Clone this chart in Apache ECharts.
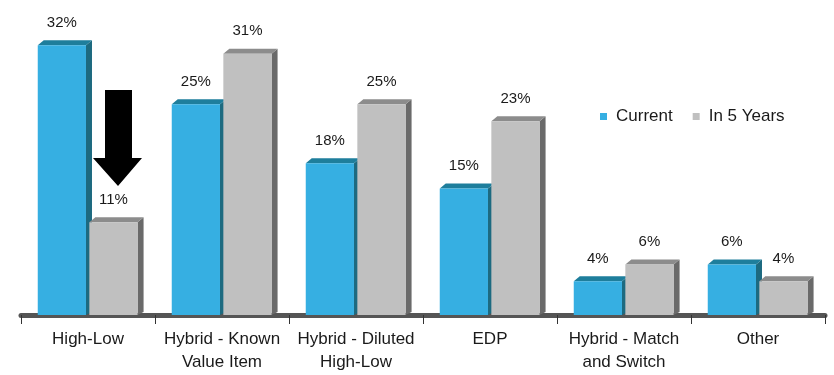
<!DOCTYPE html>
<html>
<head>
<meta charset="utf-8">
<script src="https://cdn.jsdelivr.net/npm/echarts@6/dist/echarts.min.js"></script>
<style>
  html, body { margin: 0; padding: 0; background: #fff; }
  #main { width: 834px; height: 375px; }
</style>
</head>
<body>
<div id="main"></div>
<script>
// data
var categories = ['High-Low', 'Hybrid - Known\nValue Item', 'Hybrid - Diluted\nHigh-Low', 'EDP', 'Hybrid - Match\nand Switch', 'Other'];
var current = [32, 25, 18, 15, 4, 6];
var in5Years = [11, 31, 25, 23, 6, 4];

var myChart = echarts.init(document.getElementById('main'));

// draws a bar with a little fake 3d top + side
function bar3d(front, top, side, offset) {
  return function (params, api) {
    var i = api.value(0), v = api.value(1);
    var base = api.coord([i, 0]);
    var tip = api.coord([i, v]);
    var band = api.size([1, 0])[0];
    var w = band * 0.36;
    var cx = base[0] + band * offset;
    var x0 = cx - w / 2, x1 = cx + w / 2;
    var d = 6, h = 5;
    return {
      type: 'group',
      children: [
        {
          type: 'polygon',
          shape: { points: [[x1, tip[1]], [x1 + d, tip[1] - h], [x1 + d, base[1] - 3], [x1, base[1]]] },
          style: { fill: side }
        },
        {
          type: 'polygon',
          shape: { points: [[x0, tip[1]], [x0 + d, tip[1] - h], [x1 + d, tip[1] - h], [x1, tip[1]]] },
          style: { fill: top }
        },
        {
          type: 'rect',
          shape: { x: x0, y: tip[1], width: w, height: base[1] - tip[1] },
          style: { fill: front },
          textContent: {
            style: { text: v + '%', fill: '#1a1a1a', font: '15px "Liberation Sans", Arial, sans-serif' }
          },
          textConfig: { position: 'top', distance: 15 }
        }
      ]
    };
  };
}

var option = {
  animation: false,
  legend: {
    left: 595,
    top: 103,
    itemWidth: 7,
    itemHeight: 7,
    itemGap: 20,
    icon: 'rect',
    textStyle: { fontSize: 17, color: '#1a1a1a', fontFamily: 'Liberation Sans', padding: [0, 0, 0, 4] },
    data: ['Current', 'In 5 Years']
  },
  grid: { left: 21, right: 9, top: 20, bottom: 60 },
  xAxis: {
    type: 'category',
    data: categories,
    axisLine: { lineStyle: { color: '#555', width: 5 } },
    axisTick: { show: true, length: 9, lineStyle: { color: '#333', width: 1 } },
    axisLabel: {
      interval: 0,
      margin: 13,
      fontSize: 17,
      lineHeight: 23,
      color: '#1a1a1a',
      fontFamily: 'Liberation Sans'
    }
  },
  yAxis: { type: 'value', min: 0, max: 35, show: false },
  series: [
    {
      name: 'Current',
      type: 'custom',
      itemStyle: { color: '#36afe2' },
      renderItem: bar3d('#36afe2', '#1e7e9c', '#1d6a80', -0.195),
      data: current.map(function (v, i) { return [i, v]; })
    },
    {
      name: 'In 5 Years',
      type: 'custom',
      itemStyle: { color: '#c0c0c0' },
      renderItem: bar3d('#c0c0c0', '#8c8c8c', '#6a6a6a', 0.19),
      data: in5Years.map(function (v, i) { return [i, v]; })
    }
  ],
  graphic: [
    {
      type: 'polygon',
      shape: { points: [[105, 90], [132, 90], [132, 158], [142, 158], [118, 186], [93, 158], [105, 158]] },
      style: { fill: '#000' }
    }
  ]
};

myChart.setOption(option);
</script>
</body>
</html>
